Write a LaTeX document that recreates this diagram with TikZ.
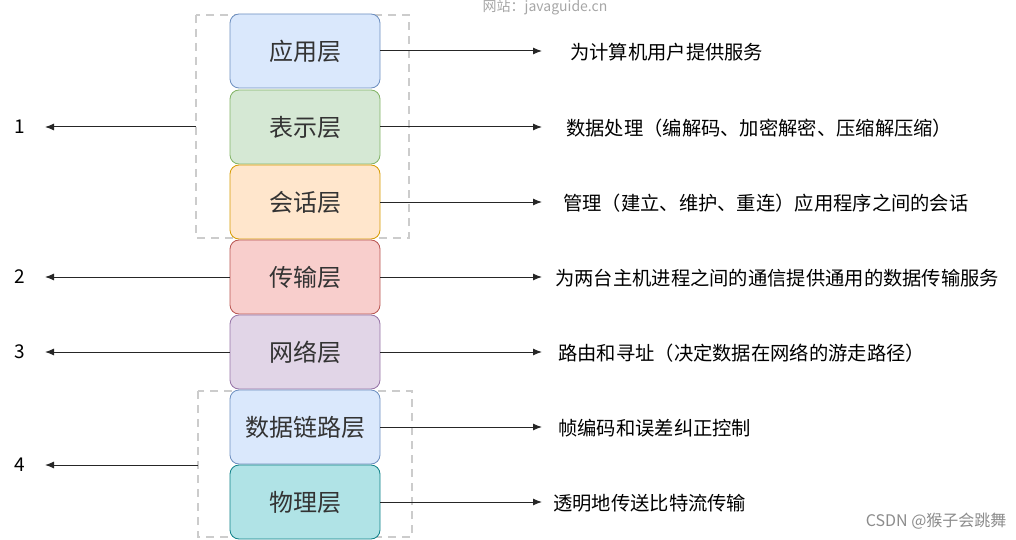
\documentclass[tikz,border=0pt]{standalone}
\usepackage{fontspec}
\setmainfont{Noto Sans CJK SC}
\usetikzlibrary{arrows.meta}
\definecolor{f1}{HTML}{DAE8FC}\definecolor{d1}{HTML}{6C8EBF}
\definecolor{f2}{HTML}{D5E8D4}\definecolor{d2}{HTML}{82B366}
\definecolor{f3}{HTML}{FFE6CC}\definecolor{d3}{HTML}{D79B00}
\definecolor{f4}{HTML}{F8CECC}\definecolor{d4}{HTML}{B85450}
\definecolor{f5}{HTML}{E1D5E7}\definecolor{d5}{HTML}{9673A6}
\definecolor{f7}{HTML}{B0E3E6}\definecolor{d7}{HTML}{0E8088}
\tikzset{
 layer/.style={draw=#1, rounded corners=9pt, minimum width=150pt, minimum height=74pt, font=\fontsize{24}{27}\selectfont, text=black!80, line width=0.8pt},
 desc/.style={anchor=west, font=\fontsize{19.3}{22}\selectfont, inner sep=0},
 num/.style={font=\fontsize{19}{21}\selectfont, inner sep=0},
 arr/.style={-{Latex[length=9pt,width=7pt]}, line width=1pt, black!85},
 grp/.style={draw=black!20, dashed, dash pattern=on 8pt off 6pt, line width=2.5pt}
}
\begin{document}
\begin{tikzpicture}[x=1pt,y=-1pt]
\useasboundingbox (0,0) rectangle (1016,540);
\node[font=\fontsize{14}{16}\selectfont, text=black!35, anchor=north, inner sep=0] (wt) at (545,0) {网站：javaguide.cn};
\draw[grp] (196,15) rectangle (409,238);
\draw[grp] (198,391) rectangle (412,537);
\node[layer=d1, fill=f1] (a) at (305,51) {应用层};
\node[layer=d2, fill=f2] (b) at (305,127) {表示层};
\node[layer=d3, fill=f3] (c) at (305,202) {会话层};
\node[layer=d4, fill=f4] (d) at (305,277) {传输层};
\node[layer=d5, fill=f5] (e) at (305,352) {网络层};
\node[layer=d1, fill=f1] (f) at (305,427) {数据链路层};
\node[layer=d7, fill=f7] (g) at (305,502) {物理层};
\coordinate (t1) at (542,51); \coordinate (t2) at (542,127); \coordinate (t3) at (542,202);
\coordinate (t4) at (542,277); \coordinate (t5) at (542,352); \coordinate (t6) at (542,427); \coordinate (t7) at (542,502);
\foreach \n/\t in {a/t1,b/t2,c/t3,d/t4,e/t5,f/t6,g/t7} \draw[arr] (\n.east) -- (\t);
\node[desc] (da) at (570,52) {为计算机用户提供服务};
\node[desc] (db) at (566,128) {数据处理（编解码、加密解密、压缩解压缩）};
\node[desc] (dc) at (563,203) {管理（建立、维护、重连）应用程序之间的会话};
\node[desc] (dd) at (555,278) {为两台主机进程之间的通信提供通用的数据传输服务};
\node[desc] (de) at (558,353) {路由和寻址（决定数据在网络的游走路径）};
\node[desc] (df) at (558,428) {帧编码和误差纠正控制};
\node[desc] (dg) at (553,503) {透明地传送比特流传输};
\node[num] (n1) at (20,127) {1};
\node[num] (n2) at (20,277) {2};
\node[num] (n3) at (20,352) {3};
\node[num] (n4) at (20,465) {4};
\coordinate (g1) at (196,127); \coordinate (g4) at (198,465);
\coordinate (l1) at (45,127); \coordinate (l2) at (45,277); \coordinate (l3) at (45,352); \coordinate (l4) at (45,465);
\draw[arr] (g1) -- (l1);
\draw[arr] (d.west) -- (l2);
\draw[arr] (e.west) -- (l3);
\draw[arr] (g4) -- (l4);
\node[anchor=east, font=\fontsize{16}{18}\selectfont, text=black!45] (w) at (1010,521) {CSDN @猴子会跳舞};
\end{tikzpicture}
\end{document}
